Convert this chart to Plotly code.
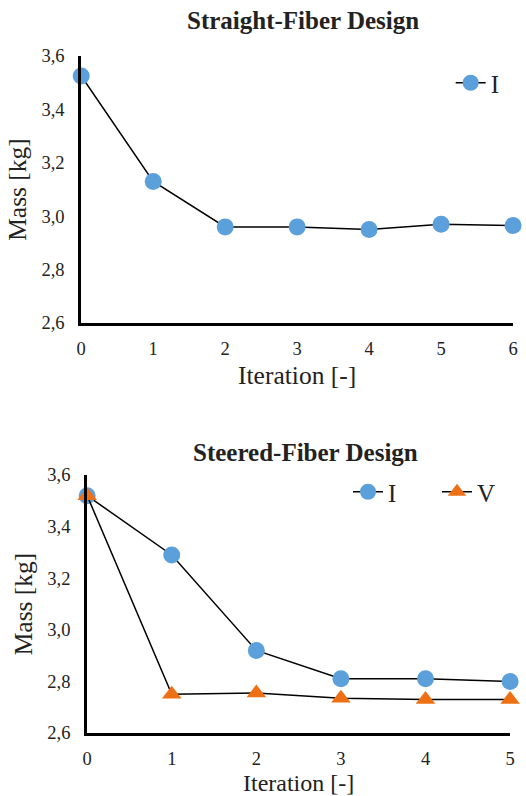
import plotly.graph_objects as go

# Data
iter_straight = [0, 1, 2, 3, 4, 5, 6]
mass_straight_I = [3.525, 3.13, 2.96, 2.96, 2.95, 2.97, 2.965]

iter_steered = [0, 1, 2, 3, 4, 5]
mass_steered_I = [3.52, 3.29, 2.92, 2.81, 2.81, 2.80]
mass_steered_V = [3.52, 2.75, 2.755, 2.735, 2.73, 2.73]

y_ticks = [2.6, 2.8, 3.0, 3.2, 3.4, 3.6]
titles = ["Straight-Fiber Design", "Steered-Fiber Design"]

BLUE = "#5B9FDB"
ORANGE = "#EE7014"
FONT = "Liberation Serif"
W, H = 526, 796

fig = go.Figure()

fig.add_trace(go.Scatter(
    x=iter_straight, y=mass_straight_I, name="I", mode="lines+markers",
    line=dict(color="black", width=1.5),
    marker=dict(color=BLUE, size=17, symbol="circle"),
    xaxis="x", yaxis="y", legend="legend", showlegend=True, cliponaxis=False))

fig.add_trace(go.Scatter(
    x=iter_steered, y=mass_steered_I, name="I", mode="lines+markers",
    line=dict(color="black", width=1.5),
    marker=dict(color=BLUE, size=17, symbol="circle"),
    xaxis="x2", yaxis="y2", legend="legend2", showlegend=True, cliponaxis=False))

fig.add_trace(go.Scatter(
    x=iter_steered, y=mass_steered_V, name="V", mode="lines+markers",
    line=dict(color="black", width=1.5),
    marker=dict(color=ORANGE, size=17, symbol="triangle-up"),
    xaxis="x2", yaxis="y2", legend="legend2", showlegend=True, cliponaxis=False))

axis_common = dict(
    showgrid=False, zeroline=False, showline=True, linecolor="black", linewidth=3,
    ticks="", tickfont=dict(family=FONT, size=18.5, color="#222"),
    title_font=dict(family=FONT, size=25.5, color="#222"), automargin=False,
)

legend_common = dict(
    orientation="h", bgcolor="rgba(0,0,0,0)", xanchor="left", yanchor="middle",
    font=dict(family=FONT, size=25, color="#222"),
)

fig.update_layout(
    width=W, height=H,
    margin=dict(l=0, r=0, t=0, b=0),
    paper_bgcolor="white", plot_bgcolor="white",
    separators=",.",
    showlegend=True,
    font=dict(family=FONT, color="#222"),
    xaxis=dict(domain=[82 / W, 518 / W], range=[0, 6], tickvals=iter_straight,
               anchor="y", title_text="Iteration [-]", title_standoff=8,
               ticklabelstandoff=7, **axis_common),
    yaxis=dict(domain=[1 - 323 / H, 1 - 56 / H], range=[2.6, 3.6], tickvals=y_ticks,
               tickformat=".1f", anchor="x", title_text="Mass [kg]", title_standoff=8,
               ticklabelstandoff=10, **axis_common),
    xaxis2=dict(domain=[88 / W, 515 / W], range=[0, 5], tickvals=iter_steered,
                anchor="y2", title_text="Iteration [-]", title_standoff=6,
                ticklabelstandoff=7, **axis_common),
    yaxis2=dict(domain=[1 - 733 / H, 1 - 475 / H], range=[2.6, 3.6], tickvals=y_ticks,
                tickformat=".1f", anchor="x2", title_text="Mass [kg]", title_standoff=8,
                ticklabelstandoff=10, **axis_common),
    legend=dict(x=0.865, y=1 - 83 / H, **legend_common),
    legend2=dict(x=0.668, y=1 - 492 / H, entrywidth=44, entrywidthmode="pixels",
                 **legend_common),
    annotations=[
        dict(text="<b>" + titles[0] + "</b>", x=306 / W, y=1 - 21 / H, xref="paper",
             yref="paper", showarrow=False, font=dict(family=FONT, size=25, color="#222"),
             xanchor="center", yanchor="middle"),
        dict(text="<b>" + titles[1] + "</b>", x=308 / W, y=1 - 452 / H, xref="paper",
             yref="paper", showarrow=False, font=dict(family=FONT, size=25, color="#222"),
             xanchor="center", yanchor="middle"),
    ],
)
fig.update_xaxes(selector=dict(anchor="y2"), title_font_size=24)

fig.write_html("out.html", config={"displayModeBar": False},
               post_script="document.body.style.margin='0';document.body.style.overflow='hidden';")
